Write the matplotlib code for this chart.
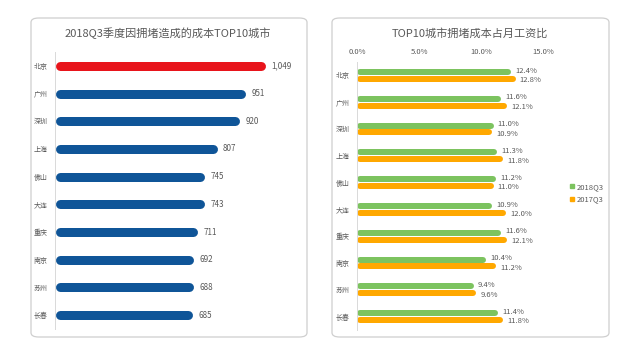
"""Two-panel congestion cost chart: TOP10 cities cost and cost share of monthly wage."""
import numpy as np
import matplotlib
matplotlib.use("Agg")
import matplotlib.pyplot as plt
from matplotlib.patches import FancyBboxPatch, Patch

plt.rcParams["font.family"] = ["Noto Sans CJK SC", "DejaVu Sans"]

CITIES = ["北京", "广州", "深圳", "上海", "佛山", "大连", "重庆", "南京", "苏州", "长春"]
COST = [1049, 951, 920, 807, 745, 743, 711, 692, 688, 685]

RATIO_CITIES = ["北京", "广州", "深圳", "上海", "佛山", "大连", "重庆", "南京", "苏州", "长春"]
RATIO_2018 = [12.4, 11.6, 11.0, 11.3, 11.2, 10.9, 11.6, 10.4, 9.4, 11.4]
RATIO_2017 = [12.8, 12.1, 10.9, 11.8, 11.0, 12.0, 12.1, 11.2, 9.6, 11.8]
PCT_TICKS = [0, 5, 10, 15]

W, H, DPI = 640, 357, 100
GREY = "#595959"
RED, BLUE = "#E8141B", "#0F5598"
GREEN, ORANGE = "#7CC35F", "#FFA800"


def px_box(x0, y0, x1, y1):
    """figure-fraction rect from pixel coords (top-left origin)."""
    return [x0 / W, 1 - y1 / H, (x1 - x0) / W, (y1 - y0) / H]


def round_bars(ax, y, vals, xspan, ax_w_px, lw_px, color):
    # round caps extend past the endpoints; pull them in so the bar spans 0..v
    r = lw_px / 2 / (ax_w_px / xspan)
    vals = np.asarray(vals, dtype=float)
    coll = ax.hlines(y, r, vals - r, colors=color, linewidth=lw_px * 72 / DPI)
    coll.set_capstyle("round")
    return coll


fig = plt.figure(figsize=(W / DPI, H / DPI), dpi=DPI)

# panel frames
for x0, x1 in [(31, 307), (332, 609)]:
    fig.patches.append(FancyBboxPatch(
        (x0 / W, 1 - 337 / H), (x1 - x0) / W, (337 - 18) / H,
        boxstyle="round,pad=0,rounding_size=0.012", transform=fig.transFigure,
        facecolor="none", edgecolor="#CFCFCF", linewidth=0.9, zorder=-1))

# ---- left: cost TOP10
ax1 = fig.add_axes(px_box(55, 52, 306, 329))
ax1.patch.set_visible(False)
y = np.arange(len(CITIES))
xmax1 = 1250
round_bars(ax1, y[:1], COST[:1], xmax1, 251, 9, RED)
round_bars(ax1, y[1:], COST[1:], xmax1, 251, 9, BLUE)
for yi, v in zip(y, COST):
    ax1.text(v + 1250 * 6 / 251, yi, f"{v:,}", va="center", ha="left",
             fontsize=5.8, color=GREY)
ax1.set_xlim(0, xmax1)
ax1.set_ylim(len(CITIES) - 0.5, -0.5)
ax1.set_yticks(y, CITIES)
ax1.set_xticks([])
ax1.tick_params(axis="y", length=0, labelsize=5, labelcolor=GREY, pad=5)
for s in ["top", "right", "bottom"]:
    ax1.spines[s].set_visible(False)
ax1.spines["left"].set_color("#D9D9D9")
ax1.spines["left"].set_linewidth(0.7)
fig.text(168 / W, 1 - 33 / H, "2018Q3季度因拥堵造成的成本TOP10城市",
         ha="center", va="center", fontsize=8, color=GREY)

# ---- right: share of monthly wage
ax2 = fig.add_axes(px_box(357, 62, 568, 330))
ax2.patch.set_visible(False)
y2 = np.arange(len(RATIO_CITIES))
xmax2 = 17
off = 0.13
round_bars(ax2, y2 - off, RATIO_2018, xmax2, 211, 6, GREEN)
round_bars(ax2, y2 + off, RATIO_2017, xmax2, 211, 6, ORANGE)
dx = xmax2 * 4 / 211
for yi, a, b in zip(y2, RATIO_2018, RATIO_2017):
    ax2.text(a + dx, yi - off - 0.05, f"{a:.1f}%", va="center", ha="left",
             fontsize=5.5, color=GREY)
    ax2.text(b + dx, yi + off + 0.05, f"{b:.1f}%", va="center", ha="left",
             fontsize=5.5, color=GREY)
ax2.set_xlim(0, xmax2)
ax2.set_ylim(len(RATIO_CITIES) - 0.5, -0.5)
ax2.set_yticks(y2, RATIO_CITIES)
ax2.set_xticks(PCT_TICKS, [f"{t:.1f}%" for t in PCT_TICKS])
ax2.xaxis.tick_top()
ax2.tick_params(axis="x", length=0, labelsize=5.5, labelcolor=GREY, pad=4)
ax2.tick_params(axis="y", length=0, labelsize=5, labelcolor=GREY, pad=5)
for s in ["top", "right", "bottom"]:
    ax2.spines[s].set_visible(False)
ax2.spines["left"].set_color("#D9D9D9")
ax2.spines["left"].set_linewidth(0.7)
fig.text(470 / W, 1 - 33 / H, "TOP10城市拥堵成本占月工资比",
         ha="center", va="center", fontsize=8, color=GREY)

handles = [Patch(color=GREEN, label="2018Q3"), Patch(color=ORANGE, label="2017Q3")]
fig.legend(handles=handles, loc="upper left", bbox_to_anchor=(563 / W, 1 - 176 / H),
           frameon=False, fontsize=5.5, labelcolor=GREY, handlelength=0.5,
           handleheight=0.5, handletextpad=0.4, labelspacing=0.6)

fig.savefig("out.png", dpi=DPI)
